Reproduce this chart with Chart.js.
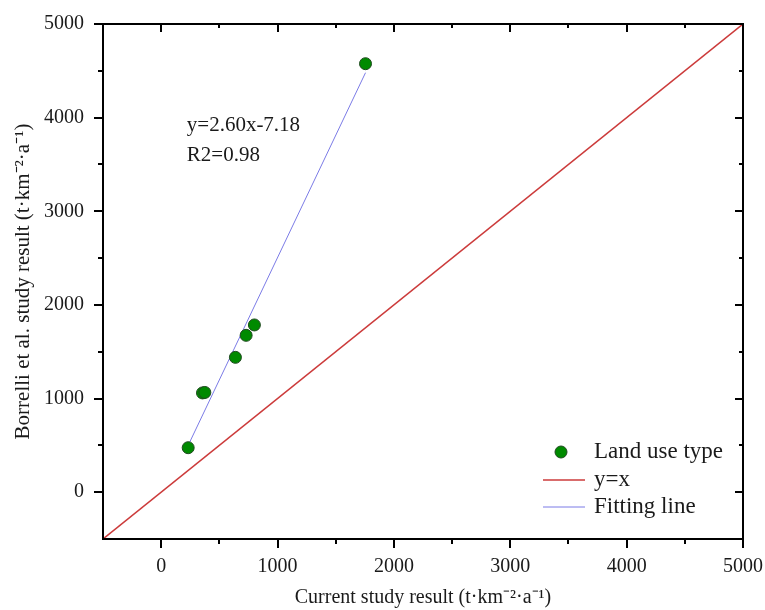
<!DOCTYPE html>
<html>
<head>
<meta charset="utf-8">
<script src="https://cdn.jsdelivr.net/npm/chart.js@4/dist/chart.umd.min.js"></script>
<style>
  html, body { margin: 0; padding: 0; background: #fff; }
  #wrap { width: 765px; height: 610px; }
</style>
</head>
<body>
<div id="wrap"><canvas id="c" width="765" height="610"></canvas></div>
<script>
// ---- data ----
const landUseX = [232, 355, 375, 638, 730, 801, 1756];
const landUseY = [475, 1060, 1065, 1440, 1675, 1786, 4576];
const fitLineX = [232, 1756];
const fitLineY = [500, 4480];
const identityX = [-500, 5000];
const identityY = [-500, 5000];
const axisMin = -500;
const axisMax = 5000;
const majorTicks = [0, 1000, 2000, 3000, 4000, 5000];
const minorTicks = [500, 1500, 2500, 3500, 4500];
const seriesLabels = ['Land use type', 'y=x', 'Fitting line'];
const fitEquation = 'y=2.60x-7.18';
const fitR2 = 'R2=0.98';
const eqAnchor = { x: 220, y: 3911 };
const r2Anchor = { x: 220, y: 3591 };
const xTitle = 'Current study result (t·km⁻²·a⁻¹)';
const yTitle = 'Borrelli et al. study result (t·km⁻²·a⁻¹)';

const SERIF = "'Liberation Serif', 'Times New Roman', serif";
const GREEN = '#008a00';
const GREEN_EDGE = '#1f4a1f';
const RED = '#cc3b3b';
const BLUE = '#7b7be6';

const toPts = (xs, ys) => xs.map((x, i) => ({ x: x, y: ys[i] }));

const framePlugin = {
  id: 'frame',
  afterDraw(chart) {
    const { ctx, chartArea: a, scales } = chart;
    const sx = scales.x, sy = scales.y;
    ctx.save();
    ctx.strokeStyle = '#000';
    ctx.lineWidth = 2;
    ctx.lineCap = 'butt';
    ctx.strokeRect(a.left, a.top, a.right - a.left, a.bottom - a.top);
    const seg = (x1, y1, x2, y2) => { ctx.beginPath(); ctx.moveTo(x1, y1); ctx.lineTo(x2, y2); ctx.stroke(); };
    majorTicks.forEach(v => {
      const px = Math.round(sx.getPixelForValue(v));
      seg(px, a.bottom, px, a.bottom + 9);
      seg(px, a.top, px, a.top + 8);
      const py = Math.round(sy.getPixelForValue(v));
      seg(a.left - 9, py, a.left, py);
      seg(a.right - 8, py, a.right, py);
    });
    minorTicks.forEach(v => {
      const px = Math.round(sx.getPixelForValue(v));
      seg(px, a.bottom, px, a.bottom + 5);
      seg(px, a.top, px, a.top + 4);
      const py = Math.round(sy.getPixelForValue(v));
      seg(a.left - 5, py, a.left, py);
      seg(a.right - 4, py, a.right, py);
    });

    // fit annotation
    ctx.fillStyle = '#1a1a1a';
    ctx.font = '21px ' + SERIF;
    ctx.textAlign = 'left';
    ctx.textBaseline = 'middle';
    ctx.fillText(fitEquation, sx.getPixelForValue(eqAnchor.x), sy.getPixelForValue(eqAnchor.y));
    ctx.fillText(fitR2, sx.getPixelForValue(r2Anchor.x), sy.getPixelForValue(r2Anchor.y));

    // legend
    const ds = chart.data.datasets;
    const textX = a.right - 149;
    const rows = [a.bottom - 87, a.bottom - 59, a.bottom - 32];
    ctx.font = '23px ' + SERIF;
    ctx.beginPath();
    ctx.arc(a.right - 182, rows[0], 6, 0, Math.PI * 2);
    ctx.fillStyle = ds[0].backgroundColor;
    ctx.fill();
    ctx.lineWidth = 1;
    ctx.strokeStyle = ds[0].borderColor;
    ctx.stroke();
    [1, 2].forEach(i => {
      ctx.beginPath();
      ctx.strokeStyle = ds[i].borderColor;
      ctx.lineWidth = ds[i].borderWidth;
      ctx.moveTo(a.right - 200, rows[i]);
      ctx.lineTo(a.right - 158, rows[i]);
      ctx.stroke();
    });
    ctx.fillStyle = '#1a1a1a';
    rows.forEach((ry, i) => ctx.fillText(seriesLabels[i], textX, ry));
    ctx.restore();
  }
};

const setTicks = s => { s.ticks = majorTicks.map(v => ({ value: v })); };
const plain = v => String(v);

new Chart(document.getElementById('c'), {
  type: 'scatter',
  data: {
    datasets: [
      {
        label: seriesLabels[0],
        data: toPts(landUseX, landUseY),
        backgroundColor: GREEN,
        borderColor: GREEN_EDGE,
        borderWidth: 1,
        pointRadius: 6,
        order: 0
      },
      {
        label: seriesLabels[1],
        type: 'line',
        data: toPts(identityX, identityY),
        borderColor: RED,
        borderWidth: 1.5,
        pointRadius: 0,
        fill: false,
        order: 2
      },
      {
        label: seriesLabels[2],
        type: 'line',
        data: toPts(fitLineX, fitLineY),
        borderColor: BLUE,
        borderWidth: 1,
        pointRadius: 0,
        fill: false,
        order: 1
      }
    ]
  },
  options: {
    responsive: false,
    animation: false,
    layout: { padding: { left: 0, right: 22, top: 24, bottom: 0 } },
    plugins: { legend: { display: false }, tooltip: { enabled: false } },
    scales: {
      x: {
        type: 'linear', min: axisMin, max: axisMax,
        afterBuildTicks: setTicks,
        afterFit: s => { s.paddingLeft = 0; s.paddingRight = 0; s.height = 71; },
        grid: { display: false, drawTicks: false },
        border: { display: false },
        ticks: { font: { family: SERIF, size: 20 }, color: '#1a1a1a', padding: 16, maxRotation: 0, autoSkip: false, callback: plain },
        title: { display: true, text: xTitle, font: { family: SERIF, size: 20 }, color: '#1a1a1a', padding: { top: 0, bottom: 0 } }
      },
      y: {
        type: 'linear', min: axisMin, max: axisMax,
        afterBuildTicks: setTicks,
        afterFit: s => { s.paddingTop = 0; s.paddingBottom = 0; s.width = 103; },
        grid: { display: false, drawTicks: false },
        border: { display: false },
        ticks: { font: { family: SERIF, size: 20 }, color: '#1a1a1a', padding: 19, autoSkip: false, callback: plain },
        title: { display: true, text: yTitle, font: { family: SERIF, size: 21 }, color: '#1a1a1a', padding: { top: 11, bottom: 0 } }
      }
    }
  },
  plugins: [framePlugin]
});
</script>
</body>
</html>
